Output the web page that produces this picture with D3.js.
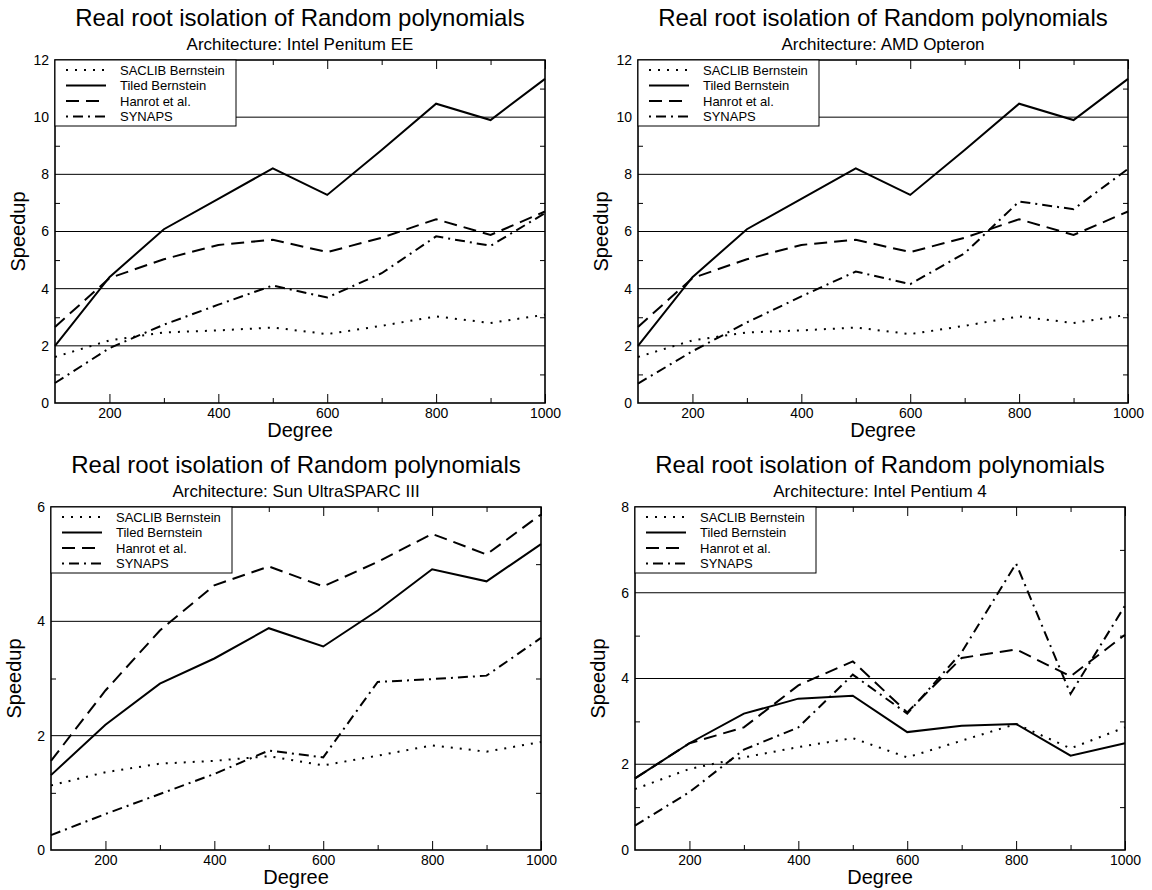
<!DOCTYPE html>
<html>
<head>
<meta charset="utf-8">
<script src="https://cdn.jsdelivr.net/npm/d3@7"></script>
<style>
    body { margin: 0; background: white; }
    svg { display: block; font-family: "Liberation Sans", Arial, sans-serif; }
</style>
</head>
<body>
<div id="chart"></div>
<script>
// x values shared by every panel
const degrees = [100, 200, 300, 400, 500, 600, 700, 800, 900, 1000];
const seriesNames = ["SACLIB Bernstein", "Tiled Bernstein", "Hanrot et al.", "SYNAPS"];

// Intel Penitum EE
const saclibEE = [1.61, 2.19, 2.47, 2.54, 2.64, 2.41, 2.70, 3.03, 2.80, 3.09];
const tiledEE  = [2.00, 4.40, 6.08, 7.14, 8.21, 7.28, 8.85, 10.47, 9.90, 11.34];
const hanrotEE = [2.66, 4.37, 5.03, 5.53, 5.71, 5.28, 5.78, 6.43, 5.88, 6.70];
const synapsEE = [0.70, 1.92, 2.74, 3.44, 4.11, 3.69, 4.54, 5.83, 5.50, 6.64];

// AMD Opteron
const saclibAMD = [1.61, 2.19, 2.47, 2.54, 2.64, 2.41, 2.70, 3.03, 2.80, 3.09];
const tiledAMD  = [2.00, 4.40, 6.08, 7.14, 8.21, 7.28, 8.85, 10.47, 9.90, 11.34];
const hanrotAMD = [2.66, 4.37, 5.03, 5.53, 5.71, 5.28, 5.78, 6.43, 5.88, 6.70];
const synapsAMD = [0.68, 1.81, 2.82, 3.73, 4.60, 4.16, 5.24, 7.05, 6.78, 8.19];

// Sun UltraSPARC III
const saclibSun = [1.13, 1.36, 1.51, 1.56, 1.64, 1.48, 1.65, 1.83, 1.72, 1.89];
const tiledSun  = [1.31, 2.19, 2.91, 3.35, 3.88, 3.56, 4.19, 4.91, 4.70, 5.35];
const hanrotSun = [1.56, 2.79, 3.84, 4.63, 4.96, 4.61, 5.04, 5.53, 5.17, 5.87];
const synapsSun = [0.26, 0.63, 0.98, 1.33, 1.74, 1.62, 2.94, 2.99, 3.05, 3.71];

// Intel Pentium 4
const saclibP4 = [1.42, 1.89, 2.16, 2.40, 2.61, 2.16, 2.55, 2.94, 2.37, 2.86];
const tiledP4  = [1.67, 2.49, 3.18, 3.53, 3.60, 2.75, 2.90, 2.94, 2.20, 2.49];
const hanrotP4 = [1.67, 2.49, 2.86, 3.84, 4.40, 3.21, 4.48, 4.68, 4.05, 5.02];
const synapsP4 = [0.57, 1.35, 2.34, 2.86, 4.09, 3.18, 4.61, 6.68, 3.64, 5.70];

const panels = [
    {arch: "Intel Penitum EE", yMax: 12, left: 55, top: 60, series: [saclibEE, tiledEE, hanrotEE, synapsEE]},
    {arch: "AMD Opteron", yMax: 12, left: 638, top: 60, series: [saclibAMD, tiledAMD, hanrotAMD, synapsAMD]},
    {arch: "Sun UltraSPARC III", yMax: 6, left: 51, top: 507, series: [saclibSun, tiledSun, hanrotSun, synapsSun]},
    {arch: "Intel Pentium 4", yMax: 8, left: 635, top: 507, series: [saclibP4, tiledP4, hanrotP4, synapsP4]}
];

// line styles per series
const dashes = ["2,7", null, "13,7", "10,5,2,5"];

const plotW = 490, plotH = 343;

let svg = d3.select("#chart").append("svg")
    .attr("width", 1152)
    .attr("height", 890);

panels.forEach(p => drawPanel(p));

function drawPanel(p) {
    let g = svg.append("g")
        .attr("transform", `translate(${p.left}, ${p.top})`);

    let x = d3.scaleLinear().domain([100, 1000]).range([0, plotW]);
    let y = d3.scaleLinear().domain([0, p.yMax]).range([plotH, 0]);

    // titles
    g.append("text")
        .attr("x", plotW / 2)
        .attr("y", -34)
        .attr("text-anchor", "middle")
        .style("font-size", "24px")
        .text("Real root isolation of Random polynomials");

    g.append("text")
        .attr("x", plotW / 2)
        .attr("y", -10)
        .attr("text-anchor", "middle")
        .style("font-size", "17px")
        .text("Architecture: " + p.arch);

    // horizontal grid lines
    g.selectAll(".grid")
        .data(d3.range(2, p.yMax, 2))
        .enter()
        .append("line")
        .attr("x1", 0)
        .attr("x2", plotW)
        .attr("y1", d => y(d))
        .attr("y2", d => y(d))
        .attr("stroke", "black")
        .attr("stroke-width", 1);

    // x axis, major + minor ticks (inward), mirrored on top
    g.append("g")
        .attr("transform", `translate(0, ${plotH})`)
        .call(d3.axisBottom(x).tickValues(d3.range(200, 1001, 200)).tickFormat(d3.format("d"))
            .tickSize(-9).tickPadding(5));
    g.append("g")
        .attr("transform", `translate(0, ${plotH})`)
        .call(d3.axisBottom(x).tickValues(d3.range(300, 1000, 200)).tickSize(-5).tickFormat(""));
    g.append("g")
        .call(d3.axisTop(x).tickValues(d3.range(200, 1001, 200)).tickSize(-9).tickFormat(""));
    g.append("g")
        .call(d3.axisTop(x).tickValues(d3.range(300, 1000, 200)).tickSize(-5).tickFormat(""));

    // y axis labels + minor ticks on both sides
    g.append("g")
        .call(d3.axisLeft(y).tickValues(d3.range(0, p.yMax + 1, 2)).tickFormat(d3.format("d"))
            .tickSize(0).tickPadding(6));
    g.append("g")
        .call(d3.axisLeft(y).tickValues(d3.range(1, p.yMax, 2)).tickSize(-5).tickFormat(""));
    g.append("g")
        .attr("transform", `translate(${plotW}, 0)`)
        .call(d3.axisRight(y).tickValues(d3.range(1, p.yMax, 2)).tickSize(-5).tickFormat(""));

    g.selectAll(".domain").remove();
    g.selectAll(".tick line").attr("stroke", "black").attr("stroke-width", 1);
    g.selectAll(".tick text")
        .attr("font-size", 14)
        .style("font-size", "14px")
        .style("font-family", "'Liberation Sans', Arial, sans-serif")
        .attr("fill", "black");

    // data lines
    let line = d3.line()
        .x((d, i) => x(degrees[i]))
        .y(d => y(d));

    p.series.forEach((s, k) => {
        g.append("path")
            .datum(s)
            .attr("d", line)
            .attr("fill", "none")
            .attr("stroke", "black")
            .attr("stroke-width", 2)
            .attr("stroke-dasharray", dashes[k]);
    });

    // frame
    g.append("rect")
        .attr("width", plotW)
        .attr("height", plotH)
        .attr("fill", "none")
        .attr("stroke", "black")
        .attr("stroke-width", 1.6);

    // legend
    let lg = g.append("g");
    lg.append("rect")
        .attr("width", 181)
        .attr("height", 66)
        .attr("fill", "white")
        .attr("stroke", "black")
        .attr("stroke-width", 1);

    seriesNames.forEach((name, k) => {
        let ly = 10 + k * 15.5;
        lg.append("line")
            .attr("x1", 11)
            .attr("x2", 51)
            .attr("y1", ly)
            .attr("y2", ly)
            .attr("stroke", "black")
            .attr("stroke-width", 2)
            .attr("stroke-dasharray", dashes[k])
            .attr("stroke-dashoffset", k === 3 ? 15 : 0);
        lg.append("text")
            .attr("x", 65)
            .attr("y", ly + 4.5)
            .style("font-size", "13px")
            .text(name);
    });

    // axis titles
    g.append("text")
        .attr("x", plotW / 2)
        .attr("y", plotH + 34)
        .attr("text-anchor", "middle")
        .style("font-size", "20px")
        .text("Degree");

    g.append("text")
        .attr("transform", `translate(-30, ${plotH / 2}) rotate(-90)`)
        .attr("text-anchor", "middle")
        .style("font-size", "20px")
        .text("Speedup");
}
</script>
</body>
</html>
